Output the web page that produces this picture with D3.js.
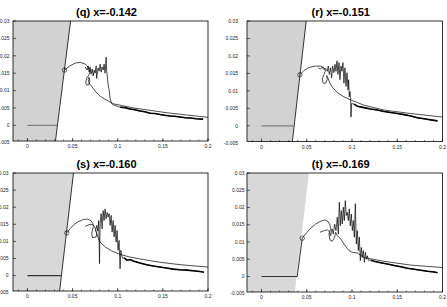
<!DOCTYPE html>
<html>
<head>
<meta charset="utf-8">
<script src="https://cdn.jsdelivr.net/npm/d3@7"></script>
<style>
body { margin: 0; background: #fff; }
svg { display: block; }
</style>
</head>
<body>
<svg id="chart" width="447" height="307"></svg>
<script>
// panel titles and axis ticks
const titles = ["(q) x=-0.142", "(r) x=-0.151", "(s) x=-0.160", "(t) x=-0.169"];
const xTicks = [0, 0.05, 0.1, 0.15, 0.2];
const xTickLabels = ["0", "0.05", "0.1", "0.15", "0.2"];
const yTicks = [-0.005, 0, 0.005, 0.01, 0.015, 0.02, 0.025, 0.03];
const yTickLabels = ["-0.005", "0", "0.005", "0.01", "0.015", "0.02", "0.025", "0.03"];

// gray (shocked) region edge, x at bottom and at top of the frame
const grayEdgeBottom = [0.0308, 0.0339, 0.0354, 0.0369];
const grayEdgeTop = [0.0478, 0.0494, 0.051, 0.0524];
// flat line at y=0 runs from 0 to here
const baseLineEnd = [0.0326, 0.035, 0.037, 0.0395];
// circle marker
const circleX = [0.0411, 0.0424, 0.0436, 0.045];
const circleY = [0.0159, 0.0146, 0.0125, 0.0111];
// where the noisy curve turns into its thick tail
const tailFrom = [0.095, 0.1, 0.107, 0.12];

const shockQ = [[0.0308, -0.005], [0.0478, 0.03]];
const shockR = [[0.0339, -0.005], [0.0494, 0.03]];
const shockS = [[0.0354, -0.005], [0.051, 0.03]];
const shockT = [[0.0395, 0], [0.045, 0.0111]];

const smoothQ = [[0.0411,0.0159],[0.047,0.0171],[0.053,0.0179],[0.0586,0.0181],[0.0641,0.0176],[0.0678,0.0166],
  [0.0697,0.0156],[0.068,0.0145],[0.0655,0.0135],[0.0645,0.0124],[0.0655,0.0116],[0.068,0.0117],[0.0692,0.0127],
  [0.0682,0.0138],[0.0672,0.0132],[0.0685,0.012],[0.0708,0.0113],[0.0752,0.0098],[0.0808,0.0083],[0.088,0.0072],
  [0.0952,0.0062],[0.1174,0.005],[0.155,0.0036],[0.2,0.0023]];
const noisyQ = [[0.0639,0.0168],[0.0661,0.0159],[0.0672,0.0171],[0.0683,0.0153],[0.0694,0.0168],[0.0705,0.0147],
  [0.0717,0.0162],[0.0728,0.0142],[0.0739,0.0159],[0.075,0.015],[0.0761,0.0171],[0.0767,0.0135],[0.0772,0.0147],
  [0.0783,0.0165],[0.0794,0.0156],[0.0805,0.0176],[0.0816,0.0153],[0.0827,0.0168],[0.0838,0.0159],[0.0849,0.0176],
  [0.086,0.015],[0.0872,0.0196],[0.0877,0.0159],[0.0883,0.0145],[0.0894,0.0116],[0.0905,0.0101],[0.0916,0.0078],
  [0.0927,0.0067],[0.0938,0.0061],[0.0949,0.0059],[0.1027,0.0052],[0.108,0.0051],[0.1137,0.0047],[0.119,0.0045],
  [0.1248,0.0041],[0.13,0.0039],[0.1359,0.0035],[0.141,0.0034],[0.147,0.0031],[0.152,0.0029],[0.158,0.0027],
  [0.163,0.0026],[0.1691,0.0024],[0.175,0.0022],[0.1802,0.0021],[0.187,0.0019],[0.1946,0.0018]];

const smoothR = [[0.0424,0.0146],[0.0468,0.0158],[0.0524,0.0167],[0.0598,0.0171],[0.0653,0.0171],[0.069,0.0166],
  [0.0709,0.0159],[0.069,0.0147],[0.0671,0.0134],[0.0682,0.0122],[0.0709,0.0122],[0.0727,0.0132],[0.072,0.0144],
  [0.0734,0.0137],[0.0756,0.0122],[0.0782,0.0111],[0.0837,0.0095],[0.0911,0.0083],[0.0986,0.0074],[0.1133,0.0059],
  [0.1354,0.0045],[0.165,0.0035],[0.2,0.0025]];
const noisyR = [[0.0627,0.0166],[0.0653,0.0163],[0.0671,0.0168],[0.069,0.0161],[0.0708,0.0165],[0.0727,0.0156],
  [0.0738,0.0171],[0.0749,0.0147],[0.0764,0.0166],[0.0775,0.0137],[0.0786,0.0171],[0.0801,0.0152],[0.0812,0.0176],
  [0.0823,0.0156],[0.0834,0.0186],[0.0845,0.0147],[0.0856,0.0181],[0.0867,0.0132],[0.0878,0.0171],[0.0889,0.0156],
  [0.09,0.0181],[0.0911,0.0122],[0.0922,0.0166],[0.0934,0.0113],[0.0945,0.0152],[0.0956,0.0103],[0.0963,0.0132],
  [0.097,0.0083],[0.0978,0.0098],[0.0985,0.0074],[0.0989,0.0025],[0.0996,0.0064],[0.1022,0.0062],[0.1059,0.0056],
  [0.1133,0.0052],[0.1207,0.0048],[0.128,0.0045],[0.1354,0.0041],[0.1428,0.0038],[0.1502,0.0035],[0.1576,0.0032],
  [0.165,0.0028],[0.1723,0.0023],[0.1797,0.002],[0.1871,0.0017],[0.1945,0.0014]];

const smoothS = [[0.0436,0.0125],[0.0473,0.0137],[0.0517,0.015],[0.0565,0.0158],[0.062,0.0164],[0.0665,0.0165],
  [0.0702,0.0161],[0.0724,0.0153],[0.0731,0.0144],[0.072,0.0134],[0.0713,0.0122],[0.072,0.0111],[0.0761,0.0113],
  [0.0768,0.0124],[0.0753,0.0134],[0.0787,0.0108],[0.0805,0.0098],[0.086,0.0084],[0.0934,0.0072],[0.1026,0.0062],
  [0.1138,0.0054],[0.1285,0.0047],[0.1467,0.0039],[0.1689,0.0032],[0.2,0.0025]];
const noisyS = [[0.0639,0.0144],[0.0665,0.0147],[0.0694,0.015],[0.072,0.0149],[0.0742,0.0144],[0.0757,0.0134],
  [0.0768,0.0147],[0.0779,0.013],[0.079,0.0161],[0.0798,0.0035],[0.0805,0.0151],[0.0816,0.0181],[0.0827,0.0137],
  [0.0838,0.019],[0.0849,0.0161],[0.086,0.0195],[0.0871,0.0166],[0.0883,0.0185],[0.0894,0.0171],[0.0905,0.0181],
  [0.0916,0.0147],[0.0927,0.0176],[0.0938,0.0127],[0.0949,0.0161],[0.096,0.0113],[0.0971,0.0147],[0.0982,0.0098],
  [0.0993,0.0132],[0.1004,0.0074],[0.1015,0.0103],[0.1026,0.002],[0.1034,0.0074],[0.1045,0.0059],[0.1056,0.005],
  [0.1071,0.0052],[0.1101,0.0045],[0.1138,0.0047],[0.1172,0.0043],[0.1246,0.0037],[0.1319,0.0032],[0.1393,0.0028],
  [0.1467,0.0025],[0.1541,0.0022],[0.1615,0.0019],[0.1689,0.0017],[0.1763,0.0016],[0.1836,0.0014],[0.191,0.0012],
  [0.1955,0.001]];

const smoothT = [[0.045,0.0111],[0.0487,0.0123],[0.0535,0.0138],[0.0598,0.0152],[0.0653,0.016],[0.0701,0.0164],
  [0.0734,0.016],[0.0756,0.015],[0.0764,0.0138],[0.0745,0.0123],[0.0756,0.0106],[0.0782,0.0102],[0.0808,0.0114],
  [0.0819,0.0128],[0.0838,0.0118],[0.0875,0.0109],[0.0911,0.0094],[0.0967,0.0075],[0.1004,0.007],[0.1059,0.0068],
  [0.1133,0.0055],[0.1354,0.0044],[0.165,0.0033],[0.2,0.0026]];
const noisyT = [[0.0646,0.0128],[0.0671,0.0131],[0.0697,0.0133],[0.0727,0.0135],[0.0749,0.0131],[0.0764,0.0118],
  [0.0779,0.0138],[0.0793,0.0123],[0.0808,0.0152],[0.0823,0.0133],[0.0838,0.0172],[0.0849,0.0123],[0.086,0.0215],
  [0.0871,0.0147],[0.0882,0.0191],[0.0893,0.0152],[0.0904,0.0201],[0.0915,0.0162],[0.0926,0.022],[0.0937,0.0177],
  [0.0948,0.0186],[0.0959,0.0162],[0.097,0.0196],[0.0981,0.0147],[0.0993,0.0181],[0.1004,0.0133],[0.1015,0.0162],
  [0.1026,0.0114],[0.1037,0.0211],[0.1048,0.0094],[0.1059,0.0133],[0.107,0.0075],[0.1081,0.0114],[0.1092,0.0046],
  [0.1103,0.0084],[0.1114,0.0055],[0.1125,0.0075],[0.1137,0.0041],[0.1148,0.007],[0.1159,0.005],[0.117,0.006],
  [0.1181,0.0047],[0.1207,0.0047],[0.1244,0.0044],[0.1317,0.004],[0.1391,0.0036],[0.1465,0.0032],[0.1539,0.0028],
  [0.1613,0.0024],[0.1687,0.0021],[0.176,0.0018],[0.1834,0.0015],[0.1908,0.0013],[0.1945,0.0011]];

const shocks = [shockQ, shockR, shockS, shockT];
const smooths = [smoothQ, smoothR, smoothS, smoothT];
const noisies = [noisyQ, noisyR, noisyS, noisyT];

// frame boxes of the four panels (pixels)
const panels = [
  { left: 13, top: 21, right: 208, bottom: 141, labelGap: 3.5, baseColor: "#7c7c7c" },
  { left: 247, top: 21, right: 442.5, bottom: 141.5, labelGap: 9, baseColor: "#7c7c7c" },
  { left: 13, top: 173, right: 208, bottom: 291, labelGap: 4.5, baseColor: "#333" },
  { left: 247, top: 173, right: 442.5, bottom: 292, labelGap: 2.5, baseColor: "#333" }
];

const svg = d3.select("#chart");
const font = "'Liberation Sans', Arial, sans-serif";

panels.forEach((p, i) => {
  const x = d3.scaleLinear().domain([-0.016, 0.2]).range([p.left, p.right]);
  const y = d3.scaleLinear().domain([-0.0045, 0.03]).range([p.bottom, p.top]);
  const line = d3.line().x(d => x(d[0])).y(d => y(d[1]));

  const g = svg.append("g");

  //clip everything to the frame
  const clipId = "clip" + i;
  g.append("clipPath").attr("id", clipId)
    .append("rect")
    .attr("x", p.left).attr("y", p.top)
    .attr("width", p.right - p.left).attr("height", p.bottom - p.top);
  const plot = g.append("g").attr("clip-path", `url(#${clipId})`);

  //gray region left of the shock
  const grayPoly = [[-0.016, -0.0045], [grayEdgeBottom[i], -0.0045], [grayEdgeTop[i], 0.03], [-0.016, 0.03]];
  plot.append("path")
    .attr("d", line(grayPoly) + "Z")
    .attr("fill", i < 2 ? "#d2d2d2" : "#d8d8d8");

  //flat line on y=0
  plot.append("path")
    .attr("d", line([[0, 0], [baseLineEnd[i], 0]]))
    .attr("fill", "none")
    .attr("stroke", p.baseColor)
    .attr("stroke-width", 1.2);

  //shock line
  plot.append("path")
    .attr("d", line(shocks[i]))
    .attr("fill", "none")
    .attr("stroke", "#000")
    .attr("stroke-width", 0.8);

  //smooth curve
  plot.append("path")
    .attr("d", line(smooths[i]))
    .attr("fill", "none")
    .attr("stroke", "#000")
    .attr("stroke-width", 0.7);

  //noisy curve and its thick tail
  plot.append("path")
    .attr("d", line(noisies[i]))
    .attr("fill", "none")
    .attr("stroke", "#000")
    .attr("stroke-width", 0.7);
  plot.append("path")
    .attr("d", line(noisies[i].filter(d => d[0] >= tailFrom[i])))
    .attr("fill", "none")
    .attr("stroke", "#000")
    .attr("stroke-width", 1.6);

  plot.append("circle")
    .attr("cx", x(circleX[i])).attr("cy", y(circleY[i]))
    .attr("r", 2.2)
    .attr("fill", "none")
    .attr("stroke", "#000")
    .attr("stroke-width", 0.6);

  //frame
  g.append("rect")
    .attr("x", p.left).attr("y", p.top)
    .attr("width", p.right - p.left).attr("height", p.bottom - p.top)
    .attr("fill", "none")
    .attr("stroke", "#000")
    .attr("stroke-width", 0.8);

  //x ticks, inward from the bottom
  const minor = d3.range(-0.01, 0.2001, 0.01);
  g.selectAll(".xminor").data(minor).enter().append("line")
    .attr("x1", d => x(d)).attr("x2", d => x(d))
    .attr("y1", p.bottom).attr("y2", p.bottom - 1.5)
    .attr("stroke", "#000").attr("stroke-width", 0.5);
  g.selectAll(".xmajor").data(xTicks).enter().append("line")
    .attr("x1", d => x(d)).attr("x2", d => x(d))
    .attr("y1", p.bottom).attr("y2", p.bottom - 3)
    .attr("stroke", "#000").attr("stroke-width", 0.6);
  g.selectAll(".xlabel").data(xTicks).enter().append("text")
    .attr("x", d => x(d)).attr("y", p.bottom + 7)
    .attr("text-anchor", "middle")
    .attr("font-family", font).attr("font-size", 5)
    .attr("fill", "#222")
    .text((d, k) => xTickLabels[k]);

  //y ticks, inward from the left
  g.selectAll(".ymajor").data(yTicks.filter(d => d >= -0.0045)).enter().append("line")
    .attr("x1", p.left).attr("x2", p.left + 3)
    .attr("y1", d => y(d)).attr("y2", d => y(d))
    .attr("stroke", "#000").attr("stroke-width", 0.6);
  g.selectAll(".ylabel").data(yTicks).enter().append("text")
    .attr("x", p.left - p.labelGap).attr("y", d => y(d))
    .attr("dy", "0.35em")
    .attr("text-anchor", "end")
    .attr("font-family", font).attr("font-size", 5)
    .attr("fill", "#222")
    .text((d, k) => yTickLabels[k]);

  //title
  g.append("text")
    .attr("x", (p.left + p.right) / 2 - 4)
    .attr("y", p.top - 5)
    .attr("text-anchor", "middle")
    .attr("font-family", font).attr("font-size", 11).attr("font-weight", "bold")
    .attr("fill", "#000")
    .text(titles[i]);
});
</script>
</body>
</html>
